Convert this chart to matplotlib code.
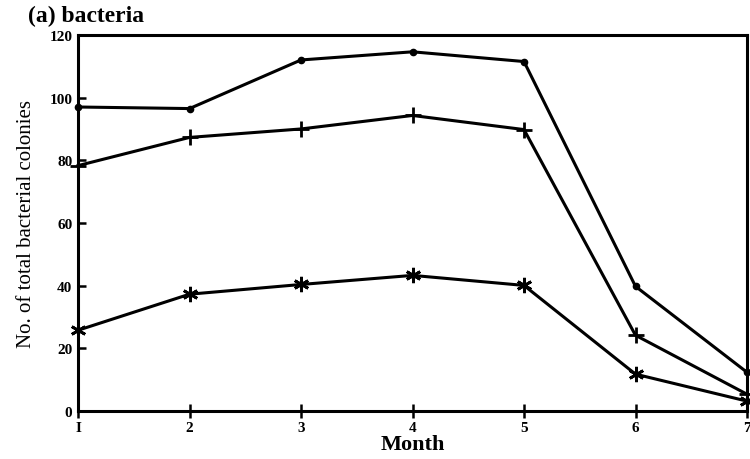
import matplotlib.pyplot as plt

# data
months = [1, 2, 3, 4, 5, 6, 7]
series_dot = [97, 96.5, 112, 114.6, 111.5, 39.8, 12.4]
series_plus = [78.3, 87.3, 90, 94.3, 89.8, 24.2, 5.4]
series_star = [25.8, 37.3, 40.4, 43.3, 40.1, 11.8, 3.2]
yticks = [0, 20, 40, 60, 80, 100, 120]

plt.rcParams['font.family'] = ['Liberation Serif', 'DejaVu Serif']

fig = plt.figure(figsize=(7.5, 4.6), dpi=100)
ax = fig.add_axes([0.104, 0.104, 0.892, 0.818])

lw = 2.2
ax.plot(months, series_dot, color='black', lw=lw, marker='o', ms=4.5, clip_on=False)
ax.plot(months, series_plus, color='black', lw=lw, marker='+', ms=11, mew=2, clip_on=False)
ax.plot(months, series_star, color='black', lw=lw, marker=(6, 2, 0), ms=11, mew=2, clip_on=False)

ax.set_xlim(1, 7)
ax.set_ylim(0, 120)
ax.set_xticks(months)
ax.set_xticklabels(['I', '2', '3', '4', '5', '6', '7'], fontweight='bold', fontsize=11)
ax.set_yticks(yticks)
ax.set_yticklabels([str(v) for v in yticks], fontweight='bold', fontsize=11)
ax.tick_params(axis='x', direction='inout', length=10, width=1.8, pad=2)
ax.tick_params(axis='y', direction='in', length=6, width=1.8, pad=4)
for s in ax.spines.values():
    s.set_linewidth(2.2)

ax.set_xlabel('Month', fontsize=16, fontweight='bold', labelpad=0)
ax.set_ylabel('No. of total bacterial colonies', fontsize=15, labelpad=10)
fig.text(0.037, 0.965, '(a) bacteria', fontsize=17, fontweight='bold', va='center')

fig.savefig('out.png', dpi=100)
